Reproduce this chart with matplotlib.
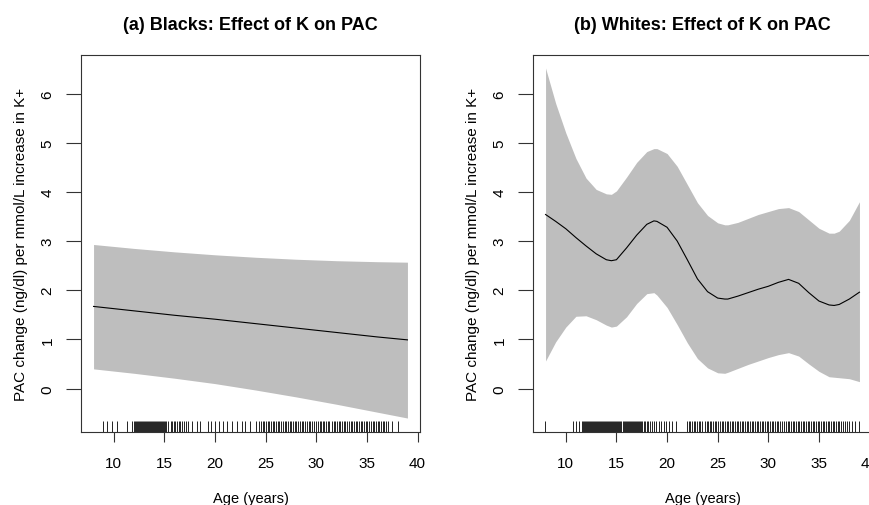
import numpy as np
import matplotlib
matplotlib.use("Agg")
import matplotlib.pyplot as plt

plt.rcParams['font.family'] = ['Liberation Sans', 'DejaVu Sans']

# ---- data ----
# (a) Blacks: fitted effect and pointwise band
age_b = [8, 12, 16, 20, 24, 28, 32, 36, 39]
fit_b = [1.67, 1.58, 1.49, 1.41, 1.32, 1.23, 1.14, 1.05, 0.99]
upr_b = [2.93, 2.85, 2.78, 2.72, 2.67, 2.63, 2.60, 2.58, 2.57]
lwr_b = [0.40, 0.31, 0.21, 0.10, -0.03, -0.17, -0.32, -0.48, -0.60]

# (b) Whites
age_w = [8, 9, 10, 11, 12, 13, 14, 14.5, 15, 16, 17, 18, 18.7, 19, 20, 21, 22, 23,
         24, 25, 25.7, 26, 27, 28, 29, 30, 31, 32, 33, 34, 35, 36, 36.5, 37, 38, 39]
fit_w = [3.54, 3.40, 3.25, 3.07, 2.90, 2.74, 2.62, 2.60, 2.62, 2.86, 3.12, 3.34, 3.41, 3.40,
         3.28, 3.00, 2.62, 2.23, 1.97, 1.84, 1.82, 1.82, 1.88, 1.95, 2.02, 2.08, 2.16, 2.22,
         2.14, 1.95, 1.78, 1.70, 1.69, 1.71, 1.82, 1.96]
upr_w = [6.52, 5.80, 5.20, 4.68, 4.28, 4.05, 3.96, 3.95, 4.02, 4.30, 4.60, 4.82, 4.88, 4.88,
         4.78, 4.52, 4.15, 3.78, 3.52, 3.37, 3.33, 3.33, 3.38, 3.46, 3.54, 3.60, 3.66, 3.68,
         3.60, 3.43, 3.26, 3.16, 3.16, 3.20, 3.42, 3.80]
lwr_w = [0.56, 0.95, 1.25, 1.47, 1.48, 1.40, 1.29, 1.25, 1.27, 1.46, 1.73, 1.93, 1.95, 1.90,
         1.65, 1.30, 0.93, 0.61, 0.42, 0.32, 0.31, 0.33, 0.41, 0.49, 0.56, 0.63, 0.69, 0.73,
         0.66, 0.50, 0.35, 0.24, 0.23, 0.22, 0.20, 0.14]

# observed ages (rug)
rug_b = [8.9, 9.3, 9.8, 10.3, 11.3, 11.8,
         12.0, 12.1, 12.2, 12.3, 12.4, 12.5, 12.6, 12.7, 12.8, 12.9, 13.0, 13.1, 13.2, 13.3,
         13.4, 13.5, 13.6, 13.7, 13.8, 13.9, 14.0, 14.1, 14.2, 14.3, 14.4, 14.5, 14.6, 14.7,
         14.8, 14.9, 15.0, 15.1, 15.2,
         15.4, 15.6, 15.7, 15.9, 16.0, 16.2, 16.4, 16.5, 16.7, 16.9, 17.1, 17.3,
         17.7, 18.2, 18.5, 19.3, 19.6, 20.0, 20.4, 20.8, 21.2, 21.7, 22.2, 22.7, 23.0, 23.5,
         24.0, 24.3,
         24.5, 24.7, 24.8, 25.0, 25.2, 25.3, 25.5, 25.7, 25.8, 26.0, 26.2, 26.3, 26.5, 26.7,
         26.9, 27.0, 27.2, 27.4, 27.5, 27.7, 27.9, 28.0, 28.2, 28.4, 28.6, 28.7, 28.9, 29.1,
         29.3, 29.4, 29.6, 29.8, 30.0, 30.2, 30.4, 30.5, 30.7, 30.8, 31.0, 31.2, 31.3, 31.5,
         31.7, 31.8, 32.0, 32.2, 32.3, 32.5, 32.7, 32.8, 33.0, 33.2, 33.4, 33.5, 33.7, 33.9,
         34.0, 34.2, 34.4, 34.5, 34.7, 34.9, 35.0, 35.2, 35.4, 35.6, 35.7, 35.9, 36.1, 36.2,
         36.4, 36.6, 36.7, 36.9, 37.1, 37.5, 38.1]
rug_w = [7.9, 10.7, 11.0, 11.3,
         11.6, 11.7, 11.8, 11.9, 12.0, 12.1, 12.2, 12.3, 12.4, 12.5, 12.6, 12.7, 12.8, 12.9,
         13.0, 13.1, 13.2, 13.3, 13.4, 13.5, 13.6, 13.7, 13.8, 13.9, 14.0, 14.1, 14.2, 14.3,
         14.4, 14.5, 14.6, 14.7, 14.8, 14.9, 15.0, 15.1, 15.2, 15.3, 15.4, 15.5, 15.6, 15.7,
         15.8, 15.9, 16.0, 16.1, 16.2, 16.3, 16.4, 16.5, 16.6, 16.7, 16.8, 16.9, 17.0, 17.1,
         17.2, 17.3, 17.4, 17.5, 17.7, 17.8, 18.0, 18.1, 18.3,
         18.5, 18.7, 18.9, 19.2, 19.4, 19.7, 19.9, 20.2, 20.5, 20.9,
         22.0, 22.2, 22.3, 22.5, 22.7, 22.8, 23.0, 23.2, 23.3, 23.5, 23.7, 23.9, 24.0, 24.2,
         24.3, 24.5, 24.7, 24.8, 25.0, 25.2, 25.4, 25.5, 25.7, 25.9, 26.0, 26.2, 26.4, 26.5,
         26.7, 26.9, 27.0, 27.2, 27.4, 27.5, 27.7, 27.9, 28.0, 28.2, 28.4, 28.5, 28.7, 28.9,
         29.0, 29.2, 29.4, 29.5, 29.7, 29.9, 30.0, 30.2, 30.4, 30.5, 30.7, 30.9, 31.0, 31.2,
         31.4, 31.5, 31.7, 31.9, 32.0, 32.2, 32.4, 32.5, 32.7, 32.9, 33.0, 33.2, 33.4, 33.5,
         33.7, 33.9, 34.0, 34.2, 34.4, 34.5, 34.7, 34.9, 35.0, 35.2, 35.4, 35.5, 35.7, 35.9,
         36.0, 36.2, 36.4, 36.5, 36.7, 36.9, 37.0, 37.2, 37.4, 37.6, 37.8, 38.0, 38.3, 38.6,
         39.0]

titles = ["(a) Blacks: Effect of K on PAC", "(b) Whites: Effect of K on PAC"]
ylab = "PAC change (ng/dl) per mmol/L increase in K+"

W, H = 870, 506
fig = plt.figure(figsize=(W / 100, H / 100), dpi=100)

def make_ax(left):
    # box position in pixels: top 56, bottom 433, width 339
    return fig.add_axes([left / W, (H - 433) / H, 339 / W, 377 / H])

panels = [(81, age_b, fit_b, upr_b, lwr_b, rug_b),
          (533, age_w, fit_w, upr_w, lwr_w, rug_w)]

for i, (left, a, f, u, l, r) in enumerate(panels):
    ax = make_ax(left)
    ax.fill_between(a, l, u, color='#bebebe', lw=0)
    ax.plot(a, f, color='black', lw=0.8)
    ax.vlines(r, 0, 0.03, transform=ax.get_xaxis_transform(), color='black', lw=0.6)
    ax.set_xlim(6.76, 40.24)
    ax.set_ylim(-0.884, 6.784)
    ax.set_xticks([10, 15, 20, 25, 30, 35, 40])
    ax.set_yticks([0, 1, 2, 3, 4, 5, 6])
    ax.tick_params(axis='x', length=7.5, width=0.8, pad=10, labelsize=11, color='#333333')
    ax.tick_params(axis='y', length=11, width=0.8, pad=8, labelsize=11, color='#333333')
    for lab in ax.get_yticklabels():
        lab.set_rotation(90)
        lab.set_va('center')
    for s in ax.spines.values():
        s.set_color('#333333')
        s.set_linewidth(0.8)
    ax.set_xlabel("Age (years)", fontsize=10.5, labelpad=15)
    ax.set_ylabel(ylab, fontsize=11, labelpad=9)
    ax.set_title(titles[i], fontsize=13, fontweight='bold', pad=19)

fig.savefig('out.png', dpi=100)
